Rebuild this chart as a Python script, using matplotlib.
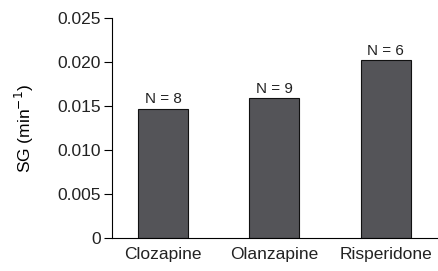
import matplotlib
matplotlib.use("Agg")
import matplotlib.pyplot as plt

categories = ["Clozapine", "Olanzapine", "Risperidone"]
values = [0.01467, 0.01588, 0.02016]
n_labels = ["N = 8", "N = 9", "N = 6"]
yticks = [0, 0.005, 0.010, 0.015, 0.020, 0.025]
ytick_labels = ["0", "0.005", "0.010", "0.015", "0.020", "0.025"]

plt.rcParams['font.family'] = ['Liberation Sans', 'DejaVu Sans']
plt.rcParams['text.color'] = '#222222'
fig = plt.figure(figsize=(4.39, 2.71), dpi=100)
ax = fig.add_axes([0.255, 0.12, 0.74, 0.815])
x = list(range(len(categories)))
ax.bar(x, values, width=0.45, color="#545458", edgecolor="#111111", linewidth=0.8, zorder=2)
for xi, v, t in zip(x, values, n_labels):
    ax.text(xi, v + 0.0003, t, ha="center", va="bottom", fontsize=11)
ax.set_xlim(-0.46, 2.46)
ax.set_ylim(0, 0.025)
ax.set_yticks(yticks)
ax.set_yticklabels(ytick_labels, fontsize=12.5, color="#222222")
ax.set_xticks(x)
ax.set_xticklabels(categories, fontsize=12.5, color="#222222")
ax.tick_params(axis="x", length=0, pad=6)
ax.tick_params(axis="y", length=6, width=0.8, pad=2)
for s in ["left", "bottom"]:
    ax.spines[s].set_linewidth(0.8)
ax.spines["top"].set_visible(False)
ax.spines["right"].set_visible(False)
ax.set_ylabel("SG (min$^{-1}$)", fontsize=12.5, labelpad=15)
fig.savefig("out.png", dpi=100)
